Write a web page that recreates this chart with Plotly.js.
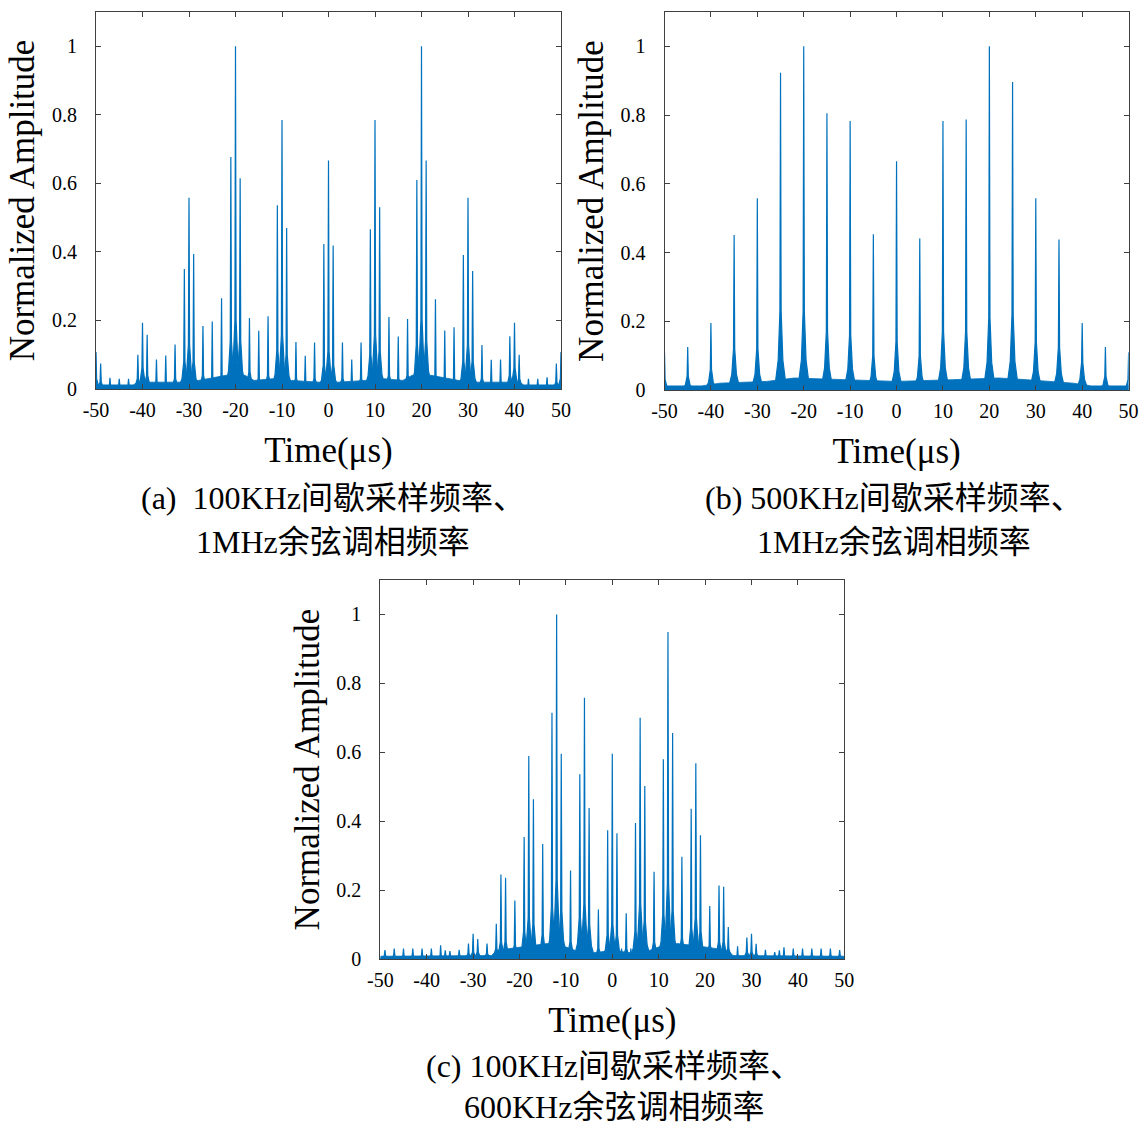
<!DOCTYPE html>
<html>
<head>
<meta charset="utf-8">
<script src="https://cdn.plot.ly/plotly-3.0.1.min.js"></script>
<style>html,body{margin:0;padding:0;background:#fff;}#chart{width:1147px;height:1129px;}</style>
</head>
<body>
<div id="chart"></div>
<script>
// ---------- DATA ----------
// Panel (a): 100KHz intermittent sampling, 1MHz cosine phase modulation
const aPeakX = [-50,-49,-47,-45,-43,-41,-40,-39,-37,-35,-33,-31,-30,-29,-27,-25,-23,-21,-20,-19,-17,-15,-13,-11,-10,-9,-7,-5,-3,-1,0,1,3,5,7,9,10,11,13,15,17,19,20,21,23,25,27,29,30,31,33,35,37,39,40,41,43,45,47,49,50];
const aPeakY = [0.108,0.074,0.033,0.03,0.03,0.10,0.193,0.158,0.086,0.098,0.13,0.35,0.558,0.394,0.184,0.197,0.265,0.677,1.0,0.615,0.207,0.17,0.212,0.536,0.785,0.47,0.137,0.097,0.136,0.423,0.667,0.419,0.136,0.086,0.136,0.466,0.785,0.53,0.21,0.153,0.204,0.61,1.0,0.667,0.262,0.171,0.18,0.391,0.558,0.344,0.128,0.085,0.086,0.154,0.193,0.10,0.03,0.03,0.034,0.074,0.108];
const aSkirt = [0.03,0.02,0.01,0.01,0.01,0.03,0.06,0.04,0.02,0.02,0.03,0.08,0.13,0.08,0.04,0.03,0.04,0.14,0.2,0.14,0.05,0.03,0.04,0.11,0.16,0.1,0.03,0.02,0.03,0.07,0.11,0.07,0.03,0.02,0.03,0.1,0.16,0.11,0.04,0.03,0.04,0.13,0.2,0.14,0.04,0.03,0.03,0.08,0.13,0.08,0.03,0.02,0.02,0.04,0.06,0.03,0.01,0.01,0.01,0.02,0.03];
const aFloorX = [-50,-42,-41,-32,-28,-22,-18,-16,-12,-8,-2,2,8,12,16,18,22,28,32,41,42,50];
const aFloorY = [0.012,0.012,0.02,0.02,0.025,0.04,0.04,0.025,0.03,0.025,0.02,0.02,0.025,0.03,0.025,0.04,0.04,0.025,0.02,0.02,0.012,0.012];

// Panel (b): 500KHz intermittent sampling, 1MHz cosine phase modulation
const bPeakX = [-50,-45,-40,-35,-30,-25,-20,-15,-10,-5,0,5,10,15,20,25,30,35,40,45,50];
const bPeakY = [0.11,0.125,0.195,0.451,0.558,0.923,1.0,0.805,0.783,0.453,0.666,0.441,0.783,0.787,1.0,0.896,0.558,0.438,0.195,0.125,0.11];
const bSkirt = [0.03,0.04,0.06,0.12,0.12,0.23,0.23,0.17,0.16,0.1,0.14,0.1,0.17,0.17,0.21,0.22,0.14,0.125,0.08,0.04,0.03];
const bFloorX = [-50,-42,-38,-28,-22,-12,0,12,22,28,38,42,50];
const bFloorY = [0.012,0.012,0.02,0.025,0.035,0.03,0.025,0.03,0.035,0.03,0.02,0.012,0.012];

// Panel (c): 100KHz intermittent sampling, 600KHz cosine phase modulation
const cPeakX = [-49,-47,-45,-43,-41,-39,-37,-36,-35,-33,-31,-30,-29,-27,-25,-24,-23,-21,-19,-18,-17,-15,-13,-12,-11,-9,-7,-6,-5,-3,-1,0,1,2,3,4,5,6,7,9,11,12,13,15,17,18,19,21,23,24,25,27,29,30,31,33,35,36,37,39,41,43,45,47,49];
const cPeakY = [0.026,0.03,0.03,0.03,0.03,0.03,0.04,0.025,0.023,0.027,0.045,0.073,0.058,0.045,0.102,0.245,0.236,0.17,0.354,0.589,0.464,0.334,0.715,1.0,0.596,0.257,0.536,0.758,0.438,0.144,0.374,0.596,0.365,0.03,0.133,0.03,0.395,0.70,0.502,0.253,0.58,0.949,0.656,0.297,0.436,0.568,0.359,0.154,0.213,0.21,0.093,0.037,0.062,0.073,0.044,0.027,0.02,0.025,0.034,0.03,0.03,0.03,0.03,0.03,0.026];
const cSkirt = [0.01,0.01,0.01,0.01,0.01,0.01,0.01,0.01,0.01,0.01,0.015,0.02,0.02,0.015,0.03,0.05,0.05,0.04,0.08,0.12,0.1,0.07,0.15,0.23,0.14,0.05,0.12,0.16,0.1,0.03,0.07,0.1,0.07,0.01,0.03,0.01,0.08,0.16,0.11,0.05,0.13,0.22,0.14,0.06,0.09,0.12,0.08,0.04,0.05,0.05,0.03,0.01,0.02,0.02,0.015,0.01,0.01,0.01,0.01,0.01,0.01,0.01,0.01,0.01,0.01];
const cFloorX = [-50,-26,-25,-20,-14,-10,-8,-4,0,4,8,10,14,20,25,26,50];
const cFloorY = [0.008,0.01,0.025,0.035,0.045,0.035,0.025,0.018,0.025,0.018,0.025,0.035,0.045,0.035,0.025,0.01,0.008];

// Tick labels
const xTickVals = [-50,-40,-30,-20,-10,0,10,20,30,40,50];
const xTickText = ['-50','-40','-30','-20','-10','0','10','20','30','40','50'];
const yTickVals = [0,0.2,0.4,0.6,0.8,1];
const yTickText = ['0','0.2','0.4','0.6','0.8','1'];

// Texts
const yTitle = 'Normalized Amplitude';
const xTitle = 'Time(\u03bcs)';
const captionA = ['(a)  100KHz间歇采样频率、', '1MHz余弦调相频率'];
const captionB = ['(b) 500KHz间歇采样频率、', '1MHz余弦调相频率'];
const captionC = ['(c) 100KHz间歇采样频率、', '600KHz余弦调相频率'];

// ---------- DRAWING ----------
const BLUE = '#0072BD';
const SERIF = '"Liberation Serif", "Times New Roman", "Noto Sans CJK SC", serif';
const W = 1147, H = 1129;

// spike shape template (style only): x offsets from the peak and fraction of skirt height
const OUT = 1.3, MID = 0.5, IN = 0.13, MIDF = 0.38;

function spikeTrace(px, py, ps, xa, ya) {
  const x = [], y = [];
  for (let i = 0; i < px.length; i++) {
    const p = px[i], h = py[i], s = ps[i];
    x.push(p - OUT, p - MID, p - IN, p, p + IN, p + MID, p + OUT, null);
    y.push(0, s * MIDF, s, h, s, s * MIDF, 0, null);
  }
  return {type: 'scatter', mode: 'lines', x: x, y: y, xaxis: xa, yaxis: ya,
    fill: 'toself', fillcolor: BLUE, line: {color: BLUE, width: 1.2}, hoverinfo: 'skip'};
}
function floorTrace(fx, fy, xa, ya) {
  return {type: 'scatter', mode: 'lines', x: fx, y: fy, xaxis: xa, yaxis: ya,
    fill: 'tozeroy', fillcolor: BLUE, line: {color: BLUE, width: 0.8}, hoverinfo: 'skip'};
}

const traces = [
  floorTrace(aFloorX, aFloorY, 'x', 'y'),
  spikeTrace(aPeakX, aPeakY, aSkirt, 'x', 'y'),
  floorTrace(bFloorX, bFloorY, 'x2', 'y2'),
  spikeTrace(bPeakX, bPeakY, bSkirt, 'x2', 'y2'),
  floorTrace(cFloorX, cFloorY, 'x3', 'y3'),
  spikeTrace(cPeakX, cPeakY, cSkirt, 'x3', 'y3')
];

function xAxis(l, r, anchor) {
  return {domain: [l / W, r / W], anchor: anchor, range: [-50, 50], autorange: false,
    tickvals: xTickVals, ticktext: xTickText, ticks: 'inside', ticklen: 5, tickwidth: 1,
    tickcolor: '#404040', showline: true, linecolor: '#404040', linewidth: 1, mirror: 'ticks',
    showgrid: false, zeroline: false, ticklabelstandoff: 3,
    tickfont: {family: SERIF, size: 20, color: '#000'},
    title: {text: xTitle, font: {family: SERIF, size: 35, color: '#000'}, standoff: 17}};
}
function yAxis(t, b, anchor) {
  return {domain: [1 - b / H, 1 - t / H], anchor: anchor, range: [0, 1.1], autorange: false,
    tickvals: yTickVals, ticktext: yTickText, ticks: 'inside', ticklen: 5, tickwidth: 1,
    tickcolor: '#404040', showline: true, linecolor: '#404040', linewidth: 1, mirror: 'ticks',
    showgrid: false, zeroline: false, ticklabelstandoff: 14,
    tickfont: {family: SERIF, size: 20, color: '#000'},
    title: {text: yTitle, font: {family: SERIF, size: 35, color: '#000'}, standoff: 6}};
}

function cap(lines, cx, y1, y2) {
  return [
    {text: lines[0], x: cx / W, y: 1 - y1 / H},
    {text: lines[1], x: cx / W, y: 1 - y2 / H}
  ].map(a => Object.assign(a, {xref: 'paper', yref: 'paper', showarrow: false,
    xanchor: 'center', yanchor: 'middle', font: {family: SERIF, size: 32, color: '#000'}}));
}

const layout = {
  width: W, height: H, margin: {l: 0, r: 0, t: 0, b: 0},
  paper_bgcolor: '#fff', plot_bgcolor: '#fff', showlegend: false,
  xaxis: xAxis(96, 561, 'y'), yaxis: yAxis(12, 389, 'x'),
  xaxis2: xAxis(664.5, 1128.6, 'y2'), yaxis2: yAxis(12, 390, 'x2'),
  xaxis3: xAxis(380.3, 844.3, 'y3'), yaxis3: yAxis(580, 959, 'x3'),
  annotations: [].concat(
    cap(captionA, 333, 498, 542),
    cap(captionB, 894, 498, 542),
    cap(captionC, 614, 1066, 1107)
  )
};

Plotly.newPlot('chart', traces, layout, {staticPlot: true, displayModeBar: false});
</script>
</body>
</html>
